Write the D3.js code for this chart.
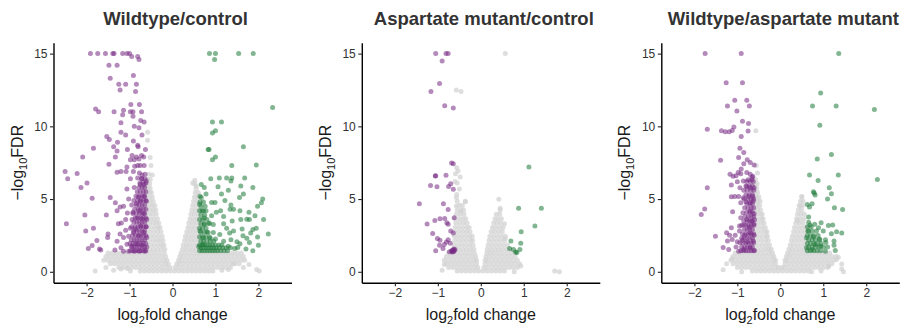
<!DOCTYPE html>
<html><head><meta charset="utf-8">
<script src="https://cdn.jsdelivr.net/npm/d3@7"></script>
<style>body{margin:0;background:#fff}svg{display:block;font-family:"Liberation Sans",Arial,sans-serif}</style>
</head><body>
<script>
// ---------- DATA ----------
const titles = ["Wildtype/control", "Aspartate mutant/control", "Wildtype/aspartate mutant"];
const xTicks = [-2, -1, 0, 1, 2];
const yTicks = [0, 5, 10, 15];

// Panel 1: Wildtype/control
const wcDown = [[-1.91,15],[-1.74,15],[-1.56,15],[-1.39,15],[-1.36,15],[-1.16,15],[-1.06,15],[-1.0,15],[-.95,14.8],[-.81,14.8],[-.78,14.6],
[-1.48,14.2],[-1.29,14.2],[-1.45,13.3],[-.91,13.5],[-1.25,12.9],[-1.09,12.9],[-.84,12.9],[-1.22,12.5],[-.86,12.4],
[-.97,11.5],[-.77,11.5],[-1.79,11.2],[-1.72,11.0],[-1.36,11.0],[-1.14,11.1],[-1.16,10.8],[-.98,11.0],[-.92,11.0],[-.72,11.0],
[-1.2,10.25],[-.92,10.7],[-.74,10.4],[-.66,10.3],[-.89,10.0],[-.78,9.9],[-1.2,9.6],[-1.09,9.4],[-.71,9.4],[-1.53,9.3],[-1.47,9.1],
[-1.28,8.9],[-.91,9.0],[-.81,8.7],[-1.84,8.5],[-1.37,8.6],[-1.29,8.3],[-1.05,8.4],[-.8,8.6],[-.63,8.4],
[-2.09,7.9],[-1.33,7.9],[-.94,8.0],[-.84,7.9],[-.72,8.0],[-1.48,7.4],[-.98,7.7],[-.89,7.7],[-.78,7.75],[-.67,7.9],
[-.88,7.25],[-.81,7.3],[-.75,7.3],[-.66,7.3],[-1.06,7.2],[-1.08,6.9],[-1.2,6.9],[-1.29,6.85],[-2.5,6.9],[-2.22,6.75],
[-2.44,6.4],[-1.99,6.1],[-2.13,5.8],[-.91,6.9],[-.77,6.8],[-.71,6.65],[-.64,6.7],[-.98,6.4],[-.81,6.45],[-.71,6.4],[-.61,6.25],
[-1.06,5.7],[-.89,5.8],[-.75,6.0],[-.66,6.0],[-1.87,5.05],[-1.45,5.1],[-1.33,4.75],[-1.02,5.0],[-.8,5.15],[-.66,5.2],
[-1.22,4.45],[-1.29,4.2],[-1.14,4.5],[-.95,4.6],[-.84,4.7],[-.75,4.85],[-.61,4.85],
[-2.04,3.9],[-1.54,3.9],[-1.05,4.05],[-.92,4.1],[-.77,4.2],[-.67,4.0],
[-2.47,3.3],[-1.84,3.0],[-2.02,2.8],[-1.26,3.3],[-1.19,3.35],[-1.09,3.6],[-.94,3.6],[-.83,3.7],[-.71,3.65],[-.6,3.6],
[-1.5,2.6],[-1.22,2.6],[-1.09,2.85],[-.98,3.0],[-.86,2.95],[-.74,3.15],[-.61,3.1],
[-1.76,2.15],[-1.51,2.35],[-1.29,2.1],[-1.14,2.35],[-1.02,2.45],[-.91,2.7],[-.78,2.5],[-.67,2.7],[-.6,2.35],
[-1.87,1.8],[-1.96,1.6],[-1.67,1.5],[-1.7,1.56],[-1.34,1.5],[-1.2,1.65],[-1.06,1.9],[-.95,1.75],[-.83,1.9],[-.71,1.85],[-.6,1.7],
[-1.14,1.42],[-1.02,1.42],[-.89,1.42],[-.77,1.42],[-.64,1.42],
[-.62,1.45],[-.68,1.45],[-.74,1.45],[-.8,1.45],[-.86,1.45],[-.92,1.45],[-.98,1.45],
[-.65,1.7],[-.71,1.7],[-.77,1.7],[-.83,1.7],[-.89,1.7],[-.95,1.7],
[-.62,1.95],[-.68,1.95],[-.74,1.95],[-.8,1.95],[-.86,1.95],[-.92,1.95],[-.99,1.95],
[-.65,2.2],[-.71,2.2],[-.77,2.2],[-.83,2.2],[-.89,2.2],[-.96,2.2],
[-.62,2.5],[-.68,2.5],[-.74,2.5],[-.8,2.5],[-.86,2.5],[-.93,2.5],
[-.65,2.8],[-.71,2.8],[-.77,2.8],[-.83,2.8],[-.9,2.8],
[-.62,3.1],[-.68,3.1],[-.74,3.1],[-.8,3.1],[-.87,3.1],[-.95,3.1],
[-.65,3.4],[-.71,3.4],[-.77,3.4],[-.83,3.4],[-.9,3.4],
[-.62,3.7],[-.68,3.7],[-.74,3.7],[-.8,3.7],[-.87,3.7],
[-.65,4.0],[-.71,4.0],[-.77,4.0],[-.84,4.0],[-.92,4.0],
[-.62,4.3],[-.68,4.3],[-.74,4.3],[-.8,4.3],[-.88,4.3],
[-.65,4.6],[-.71,4.6],[-.77,4.6],[-.84,4.6],
[-.62,4.9],[-.68,4.9],[-.74,4.9],[-.81,4.9],[-.9,4.9],
[-.65,5.2],[-.71,5.2],[-.77,5.2],[-.85,5.2],
[-.62,5.5],[-.68,5.5],[-.75,5.5],[-.82,5.5],
[-.65,5.8],[-.71,5.8],[-.78,5.8],
[-.62,6.1],[-.69,6.1],[-.76,6.1],[-.64,6.4],[-.72,6.4]];

const wcUp = [[.86,15],[1.0,15],[.98,14.6],[1.54,15],[1.88,15],[2.33,11.3],
[.93,10.3],[1.14,10.3],[1.0,9.7],[.93,9.55],[.83,8.4],[.85,8.4],[1.65,8.6],[1.0,7.9],[.93,7.7],[1.38,7.3],[1.95,7.35],
[.89,6.4],[1.09,6.45],[1.26,6.45],[1.38,6.45],[1.68,6.45],[1.36,6.25],[.67,6.0],[.74,5.8],[1.06,5.85],[1.59,5.9],[1.87,5.8],
[.78,5.35],[1.14,5.35],[1.3,5.6],[1.65,5.35],[1.56,5.1],[2.1,5.0],[2.07,4.75],[1.98,4.5],[.64,5.2],[.63,4.65],
[.91,4.77],[.99,4.77],[1.22,4.9],[1.36,4.6],[.69,4.2],[.78,4.2],[1.02,4.1],[1.12,4.2],[1.34,4.3],[1.42,4.3],[1.57,4.2],[1.78,4.1],[1.92,3.85],
[.74,3.7],[.91,3.85],[1.19,3.8],[1.39,3.5],[1.59,3.6],[1.73,3.62],[1.79,3.6],[2.12,3.6],
[.74,3.25],[.86,3.35],[.95,3.25],[1.19,3.3],[1.26,3.0],[1.42,2.8],[1.62,2.95],[1.95,3.0],[1.87,2.9],
[.64,2.8],[.8,2.73],[.95,2.7],[1.1,2.57],[1.33,2.66],[1.82,2.66],[1.98,2.4],[2.23,2.59],[1.64,2.48],
[.72,2.34],[.88,2.3],[1.0,2.25],[1.19,2.1],[1.36,2.2],[1.5,2.06],[1.73,2.3],[1.79,2.01],[2.0,1.83],
[.61,1.74],[.71,1.88],[1.57,1.93],[1.71,1.56],[1.52,1.67],[1.87,1.45],[1.45,1.6],[1.3,1.75],
[.63,1.45],[.69,1.45],[.75,1.45],[.81,1.45],[.87,1.45],[.93,1.45],[.99,1.45],[1.05,1.45],[1.12,1.45],[1.2,1.45],[1.28,1.45],
[.66,1.65],[.72,1.65],[.78,1.65],[.84,1.65],[.9,1.65],[.96,1.65],[1.02,1.65],[1.09,1.65],[1.17,1.65],[1.25,1.65],[1.35,1.65],
[.63,1.85],[.69,1.85],[.75,1.85],[.81,1.85],[.87,1.85],[.93,1.85],[1.0,1.85],[1.08,1.85],[1.15,1.85],
[.66,2.1],[.72,2.1],[.8,2.1],[.88,2.1],[.96,2.1],[.63,2.4],[.7,2.4],[.78,2.4],[.86,2.4],
[.66,2.7],[.74,2.7],[.83,2.7],[.63,3.0],[.7,3.0],[.78,3.0],[.66,3.3],[.74,3.3],[.84,3.3],
[.63,3.6],[.7,3.6],[.8,3.6],[.66,3.9],[.75,3.9],[.63,4.2],[.72,4.2],[.66,4.5],[.76,4.5],[.64,4.8],[.72,4.8],[.67,5.1]];

const wcNsExtra = [[-.58,9.6],[-.58,9.05],[-.52,7.85],[-.55,6.7],[-.47,6.65],[-.5,7.3],[.52,6.3],[.47,6.1],[.55,5.9],
[-1.8,.05],[-1.37,.1],[-1.2,.2],[-1.05,.22],[-1.55,.3],[1.78,.5],[1.96,.16],[2.02,.05],[.94,.05],[1.15,.1],[1.42,.55],[1.3,.15],[-.98,.05],[1.65,.3]];
const wcNsRows = [
[.05,[-.75,-.65,-.55,-.45,-.35,-.25,-.15,-.05,.05,.15,.25,.35,.45,.55,.65,.75,.85]],
[.3,[-1.25,-1.15,-1.05,-.95,-.85,-.75,-.65,-.55,-.45,-.35,-.25,-.15,-.06,.06,.15,.25,.35,.45,.55,.65,.75,.85,.95,1.05,1.15,1.25,1.35]],
[.55,[-1.45,-1.35,-1.25,-1.15,-1.05,-.95,-.85,-.75,-.65,-.55,-.45,-.35,-.25,-.16,-.1,.1,.16,.25,.35,.45,.55,.65,.75,.85,.95,1.05,1.15,1.25,1.35,1.45,1.55]],
[.8,[-1.6,-1.5,-1.4,-1.3,-1.2,-1.1,-1.0,-.9,-.8,-.7,-.6,-.5,-.4,-.3,-.2,-.13,.14,.2,.3,.4,.5,.6,.7,.8,.9,1.0,1.1,1.2,1.3,1.4,1.5,1.6,1.68]],
[1.05,[-1.55,-1.45,-1.35,-1.25,-1.15,-1.05,-.95,-.85,-.75,-.65,-.55,-.45,-.35,-.25,-.16,.17,.25,.35,.45,.55,.65,.75,.85,.95,1.05,1.15,1.25,1.35,1.45,1.55,1.65]],
[1.3,[-1.5,-1.4,-1.3,-1.2,-1.1,-1.0,-.9,-.8,-.7,-.6,-.5,-.4,-.3,-.19,.2,.3,.4,.5,.6,.7,.8,.9,1.0,1.1,1.2,1.3,1.4,1.5,1.6]],
[1.55,[-.62,-.53,-.44,-.35,-.26,-.18,.23,.31,.39,.47,.55,.63]],
[1.85,[-.6,-.51,-.42,-.33,-.25,-.2,.25,.33,.41,.5,.58]],
[2.15,[-.62,-.53,-.44,-.36,-.29,-.22,.28,.36,.44,.52,.6]],
[2.45,[-.6,-.51,-.42,-.33,-.24,.3,.38,.46,.54,.62]],
[2.75,[-.62,-.53,-.44,-.35,-.27,.33,.41,.49,.57]],
[3.05,[-.6,-.51,-.42,-.34,-.29,.36,.44,.52,.6]],
[3.35,[-.62,-.53,-.45,-.38,-.32,.38,.46,.54,.62]],
[3.65,[-.6,-.51,-.43,-.35,.41,.49,.57]],
[3.95,[-.62,-.54,-.46,-.38,.43,.51,.59]],
[4.25,[-.6,-.52,-.45,-.39,.45,.53,.61]],
[4.55,[-.62,-.54,-.47,-.41,.47,.55]],
[4.85,[-.6,-.52,-.45,.49,.57]],
[5.15,[-.62,-.54,-.47,.51,.58]],
[5.45,[-.6,-.53,-.49,.53,.6]],
[5.75,[-.62,-.56,-.52,.55]],
[6.05,[-.6,-.53,.52]],
[6.35,[-.58,-.52]]];

// Panel 2: Aspartate mutant/control
const acDown = [[-1.05,15],[-.81,15],[-.76,15],[-.9,14.5],[-.96,12.94],[-1.16,12.4],[-.84,11.42],[-.64,11.26],
[-.68,7.48],[-.64,7.43],[-1.06,6.58],[-1.05,6.6],[-.81,6.63],[-1.17,5.94],[-1.02,5.85],[-.75,5.87],[-.7,6.06],[-.64,5.67],
[-1.43,4.68],[-.87,4.68],[-.76,4.29],[-1.25,3.28],[-1.07,3.53],[-.95,3.65],[-.84,3.67],[-.79,3.37],[-.76,3.26],[-.62,3.72],
[-1.12,2.64],[-.7,2.8],[-.64,2.66],[-1.01,2.29],[-.95,2.16],[-.76,2.2],[-.85,1.88],[-.96,1.83],[-1.05,1.44],[-.71,1.97],
[-.67,1.42],[-.62,1.47],[-.6,1.54],[-.73,1.38],[-.68,1.45],[-.65,1.5],[-.63,1.4],[-.66,1.36],[-.63,1.56],[-.88,1.6],[-.8,2.05]];
const acUp = [[1.12,7.2],[.88,4.36],[1.41,4.36],[1.26,3.14],[.94,2.75],[.7,2.11],[.93,1.97],[.67,1.6],[.76,1.54],[.91,1.54],[.84,1.33],[.81,1.36]];
const acNsExtra = [[-.57,5.1],[-.56,5.32],[-.55,6.1],[-.56,7.16],[-.53,6.93],[-.59,6.74],[-.48,6.51],[-.57,4.52],[-.47,4.17],[-.36,4.82],
[.42,4.98],[.45,4.36],[.57,2.29],[.55,3.3],[1.72,.05],[1.83,0],[.78,0],[.93,.39],[-.85,.5],[-.57,12.5],[-.46,12.4],[.57,15],[-.9,.1],[-.5,5.7],[-.6,6.2]];
const acNsRows = [
[.05,[-.55,-.45,-.35,-.25,-.15,-.05,.05,.15,.25,.35,.45,.55]],
[.3,[-.75,-.65,-.55,-.45,-.35,-.25,-.15,-.07,.07,.15,.25,.35,.45,.55,.65,.75,.85]],
[.55,[-.8,-.7,-.6,-.5,-.4,-.3,-.2,-.1,.1,.2,.3,.4,.5,.6,.7,.8,.9]],
[.8,[-.85,-.75,-.65,-.55,-.45,-.35,-.25,-.15,-.1,.1,.15,.25,.35,.45,.55,.65,.75,.85]],
[1.05,[-.8,-.7,-.6,-.5,-.4,-.3,-.2,-.12,.12,.2,.3,.4,.5,.6,.7,.8]],
[1.3,[-.75,-.65,-.55,-.45,-.35,-.25,-.15,.14,.22,.3,.4,.5,.6,.7,.8]],
[1.55,[-.6,-.51,-.42,-.33,-.24,-.16,.15,.24,.33,.42,.51,.6,.68]],
[1.85,[-.62,-.53,-.44,-.35,-.26,-.18,.17,.26,.35,.44,.53,.62]],
[2.15,[-.6,-.51,-.42,-.33,-.24,-.19,.19,.28,.37,.46,.55]],
[2.45,[-.62,-.53,-.44,-.35,-.26,-.2,.21,.3,.39,.48,.57]],
[2.75,[-.6,-.51,-.42,-.33,-.25,.24,.32,.41,.5]],
[3.05,[-.6,-.51,-.42,-.33,-.27,.27,.35,.44,.52]],
[3.35,[-.58,-.49,-.4,-.32,.3,.38,.46]],
[3.65,[-.6,-.51,-.42,-.35,.33,.4,.48]],
[3.95,[-.57,-.48,-.39,.36,.44]],
[4.25,[-.55,-.46,-.4,.45]],
[4.55,[-.5,-.43]],
[4.85,[-.55,-.36]]];

// Panel 3: Wildtype/aspartate mutant
const waDown = [[-1.75,15],[-.91,15],[-1.26,13.0],[-.88,13.0],[-1.06,11.8],[-.78,11.8],[-1.23,11.4],[-.72,11.4],[-1.01,11.05],
[-.88,10.35],[-.74,10.2],[-1.7,9.8],[-1.08,9.95],[-1.37,9.7],[-1.28,9.63],[-1.19,9.63],[-1.12,9.72],[-.75,9.68],[-.91,9.3],
[-.94,8.5],[-.85,8.2],[-.97,7.85],[-1.39,7.66],[-.77,7.7],[-.7,7.52],[-.61,7.34],[-.85,7.43],
[-.91,7.06],[-1.17,6.7],[-1.1,6.56],[-1.03,6.6],[-.92,6.74],[-.78,6.83],[-.7,6.7],[-.64,6.56],[-.98,6.83],
[-1.0,6.19],[-.86,6.24],[-.75,6.33],[-.66,6.33],[-1.14,5.96],[-1.7,5.78],[-.94,5.78],[-.78,5.87],[-.7,5.78],[-.61,5.78],
[-1.14,5.16],[-1.06,5.18],[-.97,5.18],[-.86,5.09],[-.74,5.18],[-.64,5.18],[-.92,4.75],[-.8,4.82],[-.7,4.75],[-.63,4.86],
[-1.76,4.31],[-1.84,3.94],[-1.11,4.13],[-.87,4.06],[-.7,4.17],[-.61,3.99],[-.92,3.72],[-.78,3.6],[-.67,3.49],[-.6,3.58],
[-1.14,3.03],[-.95,3.14],[-.85,3.21],[-.72,3.07],[-.61,3.26],
[-1.51,2.45],[-1.25,2.68],[-1.18,2.52],[-1.05,2.52],[-.95,2.8],[-.83,2.52],[-.7,2.66],[-.61,2.52],
[-1.23,2.11],[-1.12,2.22],[-1.0,2.06],[-.88,2.16],[-.77,2.06],[-.63,2.11],
[-1.33,1.67],[-1.2,1.54],[-1.03,1.7],[-.97,1.42],[-.85,1.54],[-.7,1.65],[-.6,1.47],
[-.62,1.45],[-.68,1.45],[-.74,1.45],[-.8,1.45],[-.86,1.45],[-.92,1.45],
[-.65,1.7],[-.71,1.7],[-.77,1.7],[-.83,1.7],[-.9,1.7],
[-.62,2.0],[-.68,2.0],[-.74,2.0],[-.8,2.0],[-.87,2.0],[-.94,2.0],
[-.65,2.3],[-.71,2.3],[-.77,2.3],[-.84,2.3],[-.9,2.3],
[-.62,2.6],[-.68,2.6],[-.74,2.6],[-.8,2.6],[-.88,2.6],
[-.65,2.9],[-.71,2.9],[-.77,2.9],[-.84,2.9],
[-.62,3.2],[-.68,3.2],[-.74,3.2],[-.8,3.2],[-.9,3.2],
[-.65,3.5],[-.71,3.5],[-.77,3.5],[-.85,3.5],
[-.62,3.8],[-.68,3.8],[-.74,3.8],[-.82,3.8],
[-.65,4.1],[-.71,4.1],[-.78,4.1],
[-.62,4.4],[-.68,4.4],[-.75,4.4],[-.83,4.4],
[-.65,4.7],[-.71,4.7],[-.78,4.7],
[-.62,5.0],[-.68,5.0],[-.75,5.0],[-.84,5.0],
[-.65,5.3],[-.72,5.3],[-.8,5.3],
[-.62,5.6],[-.69,5.6],[-.77,5.6],[-.85,5.6],
[-.65,5.9],[-.72,5.9],[-.8,5.9],
[-.63,6.2],[-.7,6.2],[-.78,6.2],[-.66,6.5]];

const waUp = [[1.36,15],[.94,12.3],[.75,11.4],[1.3,11.4],[2.19,11.15],[.92,10.07],[1.19,8.07],[.86,7.75],
[.68,6.65],[1.35,6.65],[.88,6.28],[2.26,6.35],[1.14,5.78],[.77,5.5],[.81,5.28],[1.19,5.37],[1.1,5.0],[.79,5.42],
[.63,4.63],[.74,4.68],[.68,4.45],[1.26,4.4],[1.45,4.29],[.66,3.76],
[.69,3.21],[.8,3.26],[.95,3.37],[1.12,3.19],[1.22,3.21],
[.64,2.8],[.89,3.03],[1.0,2.8],[1.19,2.61],[1.31,2.75],[1.43,2.66],
[.61,2.34],[.77,2.39],[.91,2.25],[1.06,2.02],[1.25,2.11],
[.61,1.65],[.74,1.54],[.81,1.88],[.94,1.77],[1.05,1.42],[1.25,1.83],[1.28,1.47],
[.63,1.45],[.7,1.45],[.78,1.45],[.86,1.45],[.94,1.45],
[.66,1.7],[.74,1.7],[.82,1.7],[.9,1.7],[1.0,1.7],[1.1,1.7],
[.63,1.95],[.7,1.95],[.78,1.95],[.86,1.95],[.95,1.95],
[.66,2.2],[.74,2.2],[.82,2.2],[.92,2.2],[1.05,2.2],
[.63,2.5],[.7,2.5],[.78,2.5],[.88,2.5],
[.66,2.8],[.74,2.8],[.84,2.8],[.63,3.1],[.72,3.1],[.66,3.4]];

const waNsExtra = [[-.57,9.7],[-.53,6.8],[-.56,7.3],[-1.33,.14],[-.9,0],[-1.12,.9],[1.43,.53],[1.35,1.0],[1.43,.2],[1.12,.4],
[.73,0],[1.31,.85],[1.47,0],[1.13,.39],[-1.25,.55],[.95,.05],[.5,5.18],[.47,4.52],[.4,3.53]];
const waNsRows = [
[.05,[-.65,-.55,-.45,-.35,-.25,-.15,-.05,.05,.15,.25,.35,.45,.55,.65]],
[.3,[-1.0,-.9,-.8,-.7,-.6,-.5,-.4,-.3,-.2,-.1,-.04,.04,.1,.2,.3,.4,.5,.6,.7,.8,.9,1.0,1.1]],
[.55,[-1.1,-1.0,-.9,-.8,-.7,-.6,-.5,-.4,-.3,-.2,-.11,.11,.2,.3,.4,.5,.6,.7,.8,.9,1.0,1.1,1.2]],
[.8,[-1.15,-1.05,-.95,-.85,-.75,-.65,-.55,-.45,-.35,-.25,-.15,-.11,.11,.15,.25,.35,.45,.55,.65,.75,.85,.95,1.05,1.15,1.25]],
[1.05,[-1.1,-1.0,-.9,-.8,-.7,-.6,-.5,-.4,-.3,-.2,-.15,.14,.2,.3,.4,.5,.6,.7,.8,.9,1.0,1.1,1.2,1.3]],
[1.3,[-1.05,-.95,-.85,-.75,-.65,-.55,-.45,-.35,-.25,-.18,.17,.25,.35,.45,.55,.65,.75,.85,.95,1.05,1.15]],
[1.55,[-.62,-.53,-.44,-.35,-.27,-.21,.2,.28,.37,.46,.55,.63]],
[1.85,[-.6,-.51,-.42,-.33,-.25,.23,.31,.4,.49,.58]],
[2.15,[-.62,-.53,-.44,-.35,-.28,.26,.34,.43,.52,.6]],
[2.45,[-.6,-.51,-.42,-.33,-.3,.28,.37,.46,.55]],
[2.75,[-.62,-.53,-.44,-.35,-.31,.31,.4,.49,.58]],
[3.05,[-.6,-.51,-.42,-.35,.33,.42,.51,.6]],
[3.35,[-.62,-.53,-.44,-.38,.36,.44,.53]],
[3.65,[-.6,-.51,-.43,-.4,.38,.46,.55]],
[3.95,[-.62,-.54,-.46,-.42,.4,.48,.56]],
[4.25,[-.6,-.52,-.46,.42,.5]],
[4.55,[-.62,-.54,-.48,.44,.52]],
[4.85,[-.6,-.52,-.47,.47,.53]],
[5.15,[-.62,-.55,-.5,.5]],
[5.45,[-.6,-.53]],
[5.75,[-.62,-.55]],
[6.05,[-.6,-.54]],
[6.35,[-.58]]];

// ---------- DRAW ----------
const W = 906, H = 329;
const svg = d3.select("body").append("svg").attr("width", W).attr("height", H);

const panels = [
  {title: titles[0], left: 53.5, down: wcDown, up: wcUp, nsRows: wcNsRows, nsExtra: wcNsExtra},
  {title: titles[1], left: 361.8, down: acDown, up: acUp, nsRows: acNsRows, nsExtra: acNsExtra},
  {title: titles[2], left: 661.3, down: waDown, up: waUp, nsRows: waNsRows, nsExtra: waNsExtra}
];
const plotW = 238, plotTop = 42.7, plotBottom = 282.7;
const R = 2.5;
const fmt = d3.format("d");

panels.forEach(p => {
  const x = d3.scaleLinear().domain([-2.77, 2.77]).range([p.left, p.left + plotW]);
  const y = d3.scaleLinear().domain([-0.75, 15.75]).range([plotBottom, plotTop]);
  const g = svg.append("g");
  const ns = p.nsExtra.concat(p.nsRows.flatMap(([yy, xs]) => xs.map(xx => [xx, yy])));

  g.append("g").selectAll("circle").data(ns).join("circle")
    .attr("cx", d => x(d[0])).attr("cy", d => y(d[1])).attr("r", R)
    .attr("fill", "#d3d3d3").attr("fill-opacity", 0.75);
  g.append("g").selectAll("circle").data(p.down).join("circle")
    .attr("cx", d => x(d[0])).attr("cy", d => y(d[1])).attr("r", R)
    .attr("fill", "#762a83").attr("fill-opacity", 0.55);
  g.append("g").selectAll("circle").data(p.up).join("circle")
    .attr("cx", d => x(d[0])).attr("cy", d => y(d[1])).attr("r", R)
    .attr("fill", "#1b7837").attr("fill-opacity", 0.55);

  const xa = g.append("g").attr("transform", `translate(0,${plotBottom})`)
    .call(d3.axisBottom(x).tickValues(xTicks).tickFormat(fmt).tickSizeInner(3.5).tickSizeOuter(0).tickPadding(2.5));
  const ya = g.append("g").attr("transform", `translate(${p.left},0)`)
    .call(d3.axisLeft(y).tickValues(yTicks).tickFormat(fmt).tickSizeInner(3.5).tickSizeOuter(0).tickPadding(2.5));
  [xa, ya].forEach(a => {
    a.select(".domain").attr("stroke", "#000").attr("stroke-width", 1.4);
    a.selectAll(".tick line").attr("stroke", "#222").attr("stroke-width", 1.1);
    a.selectAll(".tick text").attr("fill", "#333").style("font-size", "12px")
      .style("font-family", '"Liberation Sans",Arial,sans-serif');
  });

  g.append("text").attr("x", p.left + plotW / 2 + 3).attr("y", 25)
    .attr("text-anchor", "middle").attr("fill", "#333")
    .style("font-size", "18.5px").style("font-weight", "bold").text(p.title);

  const xt = g.append("text").attr("x", p.left + plotW / 2).attr("y", 320)
    .attr("text-anchor", "middle").attr("fill", "#1a1a1a").style("font-size", "16px");
  xt.append("tspan").text("log");
  xt.append("tspan").attr("dy", 4).style("font-size", "11px").text("2");
  xt.append("tspan").attr("dy", -4).text("fold change");

  const yt = g.append("text")
    .attr("transform", `translate(${p.left - 31},${(plotTop + plotBottom) / 2}) rotate(-90)`)
    .attr("text-anchor", "middle").attr("fill", "#1a1a1a").style("font-size", "16px");
  yt.append("tspan").text("\u2212log");
  yt.append("tspan").attr("dy", 4).style("font-size", "11px").text("10");
  yt.append("tspan").attr("dy", -4).text("FDR");
});
</script>
</body></html>
